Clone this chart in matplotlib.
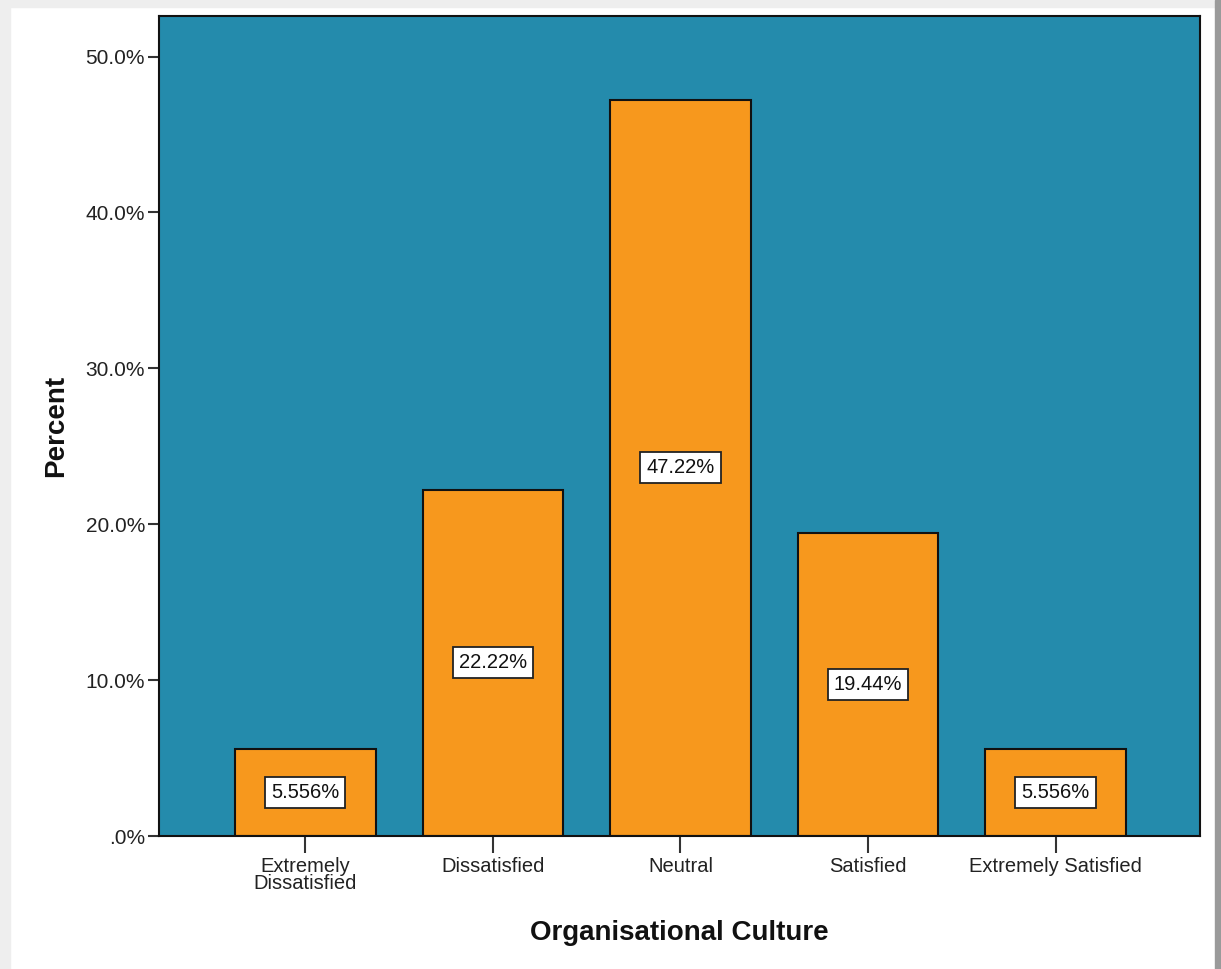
import matplotlib.pyplot as plt
from matplotlib.patches import Rectangle

plt.rcParams['font.family'] = ['Liberation Sans', 'DejaVu Sans']

categories = ['Extremely\nDissatisfied', 'Dissatisfied', 'Neutral', 'Satisfied', 'Extremely Satisfied']
percents = [5.556, 22.22, 47.22, 19.44, 5.556]
value_labels = ['5.556%', '22.22%', '47.22%', '19.44%', '5.556%']
yticks = [0, 10, 20, 30, 40, 50]
ytick_labels = ['.0%', '10.0%', '20.0%', '30.0%', '40.0%', '50.0%']

fig = plt.figure(figsize=(12.21, 9.69), dpi=100)
fig.patch.set_facecolor('white')

# window frame around the chart
fig.patches.append(Rectangle((0, 0), 10 / 1221, 1, transform=fig.transFigure, color='#eeeeee', zorder=0))
fig.patches.append(Rectangle((0, 1 - 7 / 969), 1, 7 / 969, transform=fig.transFigure, color='#eeeeee', zorder=0))
fig.patches.append(Rectangle((1 - 6 / 1221, 0), 6 / 1221, 1, transform=fig.transFigure, color='#9a9a9a', zorder=0))

ax = fig.add_axes([159 / 1221, 1 - 836 / 969, 1041 / 1221, 820 / 969])
ax.set_facecolor('#248bac')

x = range(len(categories))
ax.bar(x, percents, width=0.75, color='#f7981d', edgecolor='#111111', linewidth=1.5, zorder=2)

for xi, v, lab in zip(x, percents, value_labels):
    ax.text(xi, v / 2, lab, ha='center', va='center', fontsize=14.5, color='#111111', zorder=3,
            bbox=dict(boxstyle='square,pad=0.3', facecolor='white', edgecolor='#222222', linewidth=1.3))

ax.set_xlim(-0.78, 4.77)
ax.set_ylim(0, 52.6)
ax.set_xticks(list(x))
ax.set_xticklabels(categories, fontsize=14.5, color='#222222', linespacing=0.9)
ax.set_yticks(yticks)
ax.set_yticklabels(ytick_labels, fontsize=15, color='#222222')
ax.tick_params(axis='x', length=12, width=1.5, color='#333333', pad=3)
ax.tick_params(axis='y', length=8, width=1.5, color='#333333', pad=2)

for s in ax.spines.values():
    s.set_color('#111111')
    s.set_linewidth(1.5)

ax.set_ylabel('Percent', fontsize=20, fontweight='bold', color='#111111', labelpad=12)
ax.set_xlabel('Organisational Culture', fontsize=20, fontweight='bold', color='#111111', labelpad=19)

fig.savefig('out.png', dpi=100)
